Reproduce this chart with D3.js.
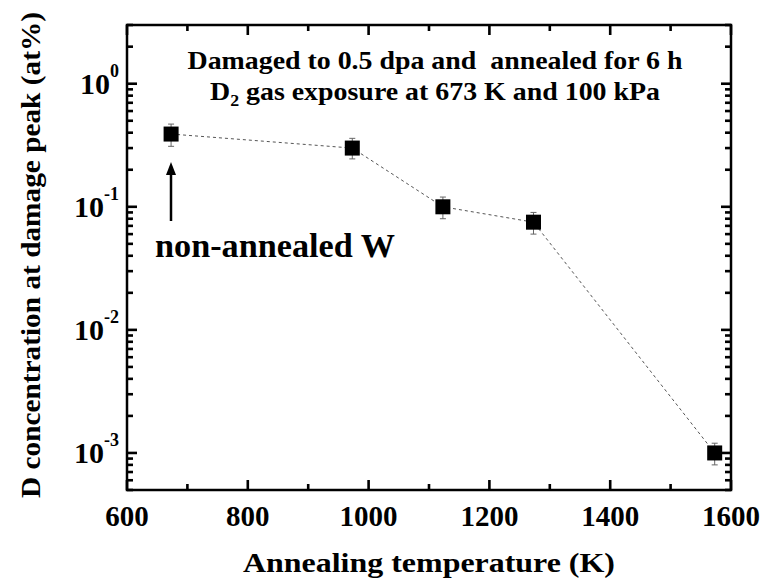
<!DOCTYPE html>
<html>
<head>
<meta charset="utf-8">
<script src="https://cdn.jsdelivr.net/npm/d3@7"></script>
<style>
  html, body { margin: 0; padding: 0; background: #fff; }
</style>
</head>
<body>
<div id="chart"></div>
<script>
// data
const temps    = [673, 973, 1123, 1273, 1573];
const conc     = [0.39, 0.30, 0.10, 0.075, 0.001];
const errLow   = [0.31, 0.245, 0.08, 0.06, 0.0008];
const errHigh  = [0.47, 0.36, 0.12, 0.09, 0.0012];
const xTicks   = [600, 800, 1000, 1200, 1400, 1600];
const xMinor   = [700, 900, 1100, 1300, 1500];
const yDecades = [0, -1, -2, -3];

const width = 768, height = 583;
const plot = { left: 127, right: 731, top: 25, bottom: 490 };
const FONT = "'Liberation Serif', 'Times New Roman', serif";

const svg = d3.select('#chart').append('svg')
  .attr('width', width)
  .attr('height', height)
  .style('display', 'block');

const x = d3.scaleLinear().domain([600, 1600]).range([plot.left, plot.right]);
const y = d3.scaleLog().domain([5e-4, 3]).range([plot.bottom, plot.top]);

// minor log ticks, 2..9 per decade inside the domain
const yMinor = [];
for (let e = -4; e <= 0; e++) {
  for (let m = 2; m <= 9; m++) {
    const v = m * Math.pow(10, e);
    if (v >= 5e-4 && v <= 3) yMinor.push(v);
  }
}
const yMajor = yDecades.map(e => Math.pow(10, e));

// frame
svg.append('rect')
  .attr('x', plot.left).attr('y', plot.top)
  .attr('width', plot.right - plot.left).attr('height', plot.bottom - plot.top)
  .attr('fill', 'none').attr('stroke', '#000').attr('stroke-width', 2.5);

// inward ticks on all four sides
const tickRects = [];
xTicks.forEach(v => { tickRects.push([x(v) - 1.3, plot.bottom - 10, 2.6, 10], [x(v) - 1.3, plot.top, 2.6, 10]); });
xMinor.forEach(v => { tickRects.push([x(v) - 1.3, plot.bottom - 6, 2.6, 6], [x(v) - 1.3, plot.top, 2.6, 6]); });
yMajor.forEach(v => { tickRects.push([plot.left, y(v) - 1.3, 10, 2.6], [plot.right - 10, y(v) - 1.3, 10, 2.6]); });
yMinor.forEach(v => { tickRects.push([plot.left, y(v) - 1.3, 6, 2.6], [plot.right - 6, y(v) - 1.3, 6, 2.6]); });
svg.append('g').selectAll('rect')
  .data(tickRects)
  .join('rect')
    .attr('x', d => d[0]).attr('y', d => d[1])
    .attr('width', d => d[2]).attr('height', d => d[3])
    .attr('fill', '#000');

// x tick labels
svg.append('g').selectAll('text')
  .data(xTicks)
  .join('text')
    .attr('x', d => x(d))
    .attr('y', 526)
    .attr('text-anchor', 'middle')
    .style('font-family', FONT)
    .style('font-weight', 'bold')
    .style('font-size', '29px')
    .text(d => d);

// y tick labels 10^n
const yl = svg.append('g').selectAll('text')
  .data(yDecades)
  .join('text')
    .attr('x', 119)
    .attr('y', d => y(Math.pow(10, d)) + 10)
    .attr('text-anchor', 'end')
    .style('font-family', FONT)
    .style('font-weight', 'bold')
    .style('font-size', '30px');
yl.append('tspan').text('10');
yl.append('tspan').attr('dy', -17).style('font-size', '18px').text(d => d);

// axis titles
svg.append('text')
  .attr('x', 429).attr('y', 572)
  .attr('text-anchor', 'middle')
  .style('font-family', FONT)
  .style('font-weight', 'bold')
  .style('font-size', '28px')
  .attr('textLength', 372).attr('lengthAdjust', 'spacingAndGlyphs')
  .text('Annealing temperature (K)');

svg.append('text')
  .attr('transform', 'translate(40,255) rotate(-90)')
  .attr('text-anchor', 'middle')
  .style('font-family', FONT)
  .style('font-weight', 'bold')
  .style('font-size', '28px')
  .attr('textLength', 486).attr('lengthAdjust', 'spacingAndGlyphs')
  .text('D concentration at damage peak (at%)');

// dashed connecting line
const pts = temps.map((t, i) => [t, conc[i]]);
svg.append('path')
  .datum(pts)
  .attr('d', d3.line().x(d => x(d[0])).y(d => y(d[1])))
  .attr('fill', 'none')
  .attr('stroke', '#555')
  .attr('stroke-width', 1)
  .attr('stroke-dasharray', '3,3');

// error bars
const eb = svg.append('g').attr('stroke', '#666').attr('stroke-width', 1);
temps.forEach((t, i) => {
  eb.append('line').attr('x1', x(t)).attr('x2', x(t)).attr('y1', y(errLow[i])).attr('y2', y(errHigh[i]));
  eb.append('line').attr('x1', x(t) - 3).attr('x2', x(t) + 3).attr('y1', y(errLow[i])).attr('y2', y(errLow[i]));
  eb.append('line').attr('x1', x(t) - 3).attr('x2', x(t) + 3).attr('y1', y(errHigh[i])).attr('y2', y(errHigh[i]));
});

// square markers
const s = 15;
svg.append('g').selectAll('rect')
  .data(pts)
  .join('rect')
    .attr('x', d => x(d[0]) - s / 2)
    .attr('y', d => y(d[1]) - s / 2)
    .attr('width', s).attr('height', s)
    .attr('fill', '#000');

// annotations
svg.append('text')
  .attr('x', 435).attr('y', 69)
  .attr('text-anchor', 'middle')
  .style('font-family', FONT)
  .style('font-weight', 'bold')
  .style('font-size', '25px')
  .attr('textLength', 495).attr('lengthAdjust', 'spacingAndGlyphs')
  .attr('xml:space', 'preserve')
  .text('Damaged to 0.5 dpa and  annealed for 6 h');

const l2 = svg.append('text')
  .attr('x', 210).attr('y', 100)
  .style('font-family', FONT)
  .style('font-weight', 'bold')
  .style('font-size', '25px')
  .attr('textLength', 450).attr('lengthAdjust', 'spacingAndGlyphs');
l2.append('tspan').text('D');
l2.append('tspan').style('font-size', '16px').attr('dy', 6).text('2');
l2.append('tspan').attr('dy', -6).text(' gas exposure at 673 K and 100 kPa');

svg.append('text')
  .attr('x', 155).attr('y', 257)
  .style('font-family', FONT)
  .style('font-weight', 'bold')
  .style('font-size', '33px')
  .attr('textLength', 240).attr('lengthAdjust', 'spacingAndGlyphs')
  .text('non-annealed W');

// arrow
svg.append('line')
  .attr('x1', 171).attr('x2', 171).attr('y1', 221).attr('y2', 172)
  .attr('stroke', '#000').attr('stroke-width', 2.5);
svg.append('path')
  .attr('d', 'M171,162 L166,175 L176,175 Z')
  .attr('fill', '#000');
</script>
</body>
</html>
